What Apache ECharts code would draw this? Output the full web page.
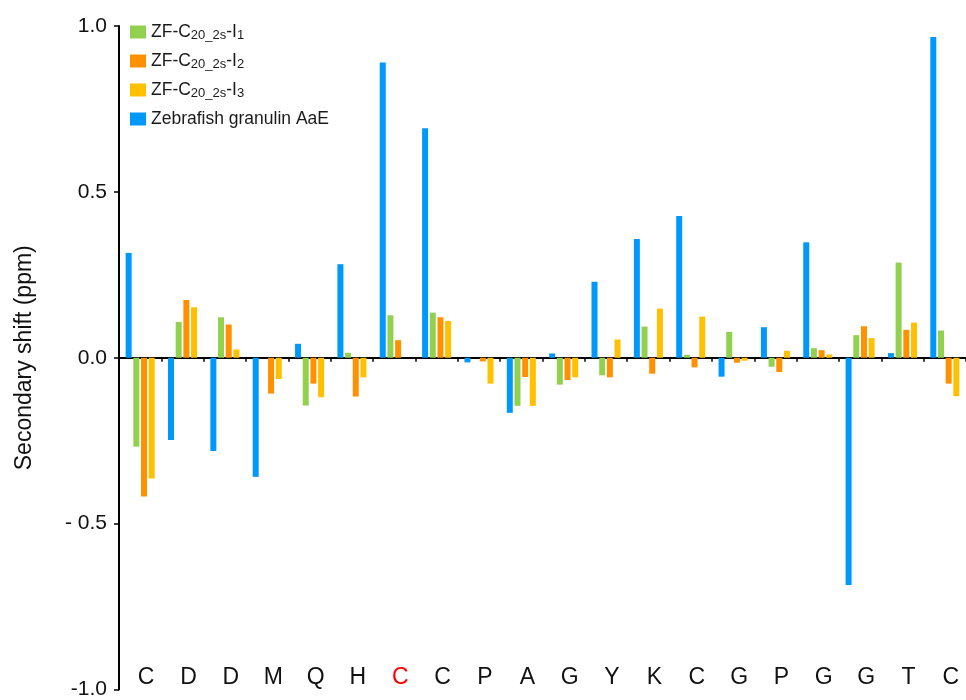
<!DOCTYPE html>
<html>
<head>
<meta charset="utf-8">
<script src="https://cdn.jsdelivr.net/npm/echarts@6/dist/echarts.min.js"></script>
<style>
  html, body { margin: 0; padding: 0; background: #fff; }
  #chart { width: 966px; height: 700px; }
</style>
</head>
<body>
<div id="chart"></div>
<script>
// Residues of the peptide (x axis)
const residues = ['C','D','D','M','Q','H','C','C','P','A','G','Y','K','C','G','P','G','G','T','C'];
// Index of the residue highlighted in red
const highlightIndex = 6;

// Secondary shifts (ppm)
const granulinAaE = [0.316, -0.248, -0.281, -0.359, 0.042, 0.282, 0.890, 0.692, -0.014, -0.166, 0.013, 0.229, 0.358, 0.427, -0.057, 0.092, 0.348, -0.685, 0.014, 0.967];
const isomer1 = [-0.268, 0.108, 0.122, 0, -0.144, 0.015, 0.128, 0.136, 0, -0.145, -0.081, -0.053, 0.094, 0.009, 0.078, -0.027, 0.029, 0.068, 0.287, 0.082];
const isomer2 = [-0.418, 0.174, 0.100, -0.108, -0.078, -0.117, 0.053, 0.122, -0.011, -0.058, -0.067, -0.059, -0.048, -0.029, -0.015, -0.043, 0.023, 0.095, 0.084, -0.078];
const isomer3 = [-0.364, 0.152, 0.025, -0.064, -0.119, -0.059, 0, 0.111, -0.078, -0.145, -0.059, 0.055, 0.148, 0.124, -0.009, 0.021, 0.010, 0.059, 0.106, -0.116];

// Y tick values and their printed labels
const yTickValues = [-1, -0.5, 0, 0.5, 1];
const yTickLabels = ['-1.0', '- 0.5', '0.0', '0.5', '1.0'];

// Legend names (plain) and their rich-text forms
const seriesNames = ['ZF-C20_2s-I1', 'ZF-C20_2s-I2', 'ZF-C20_2s-I3', 'Zebrafish granulin AaE'];
const legendRich = {
  'ZF-C20_2s-I1': '{n|ZF-C}{s|20_2s}{n|-I}{s|1}',
  'ZF-C20_2s-I2': '{n|ZF-C}{s|20_2s}{n|-I}{s|2}',
  'ZF-C20_2s-I3': '{n|ZF-C}{s|20_2s}{n|-I}{s|3}',
  'Zebrafish granulin AaE': '{n|Zebrafish granulin AaE}'
};

const FONT = '"Liberation Sans", Arial, sans-serif';
const colors = { aae: '#0098fb', i1: '#92d050', i2: '#ff9100', i3: '#ffc000' };

const chart = echarts.init(document.getElementById('chart'), null, { renderer: 'canvas' });

const barCommon = { type: 'bar', barWidth: 6, barGap: '28%', xAxisIndex: 0 };

chart.setOption({
  animation: false,
  backgroundColor: '#fff',
  textStyle: { fontFamily: FONT },
  grid: { left: 119, right: 0, top: 26, bottom: 7, containLabel: false },
  legend: {
    orient: 'vertical',
    left: 125,
    top: 18,
    itemWidth: 16,
    itemHeight: 13,
    itemGap: 10,
    icon: 'rect',
    data: seriesNames,
    formatter: name => legendRich[name],
    textStyle: {
      fontFamily: FONT,
      fontSize: 17.5,
      color: '#1a1a1a',
      rich: {
        n: { fontFamily: FONT, fontSize: 17.5, lineHeight: 20, color: '#1a1a1a' },
        s: { fontFamily: FONT, fontSize: 13, lineHeight: 7, verticalAlign: 'bottom', color: '#1a1a1a' }
      }
    }
  },
  xAxis: [
    {
      type: 'category',
      data: residues,
      axisLine: { onZero: true, lineStyle: { color: '#000', width: 2 } },
      axisTick: { show: true, length: 4, lineStyle: { color: '#000', width: 1.5 } },
      axisLabel: { show: false },
      splitLine: { show: false }
    },
    {
      type: 'category',
      data: residues,
      position: 'bottom',
      axisLine: { show: false, onZero: false },
      axisTick: { show: false },
      axisLabel: {
        inside: true,
        margin: 0,
        fontFamily: FONT,
        fontSize: 23,
        padding: [0, 0, 0, 12],
        color: (value, index) => index === highlightIndex ? '#ff0000' : '#111'
      },
      splitLine: { show: false }
    }
  ],
  yAxis: {
    type: 'value',
    min: -1,
    max: 1,
    interval: 0.5,
    name: 'Secondary shift (ppm)',
    nameLocation: 'middle',
    nameGap: 83,
    nameTextStyle: { fontFamily: FONT, fontSize: 23, color: '#111' },
    axisLine: { show: true, lineStyle: { color: '#000', width: 2 } },
    axisTick: { show: true, length: 5, lineStyle: { color: '#000', width: 1.5 } },
    axisLabel: {
      margin: 12,
      fontFamily: FONT,
      fontSize: 21,
      color: '#111',
      formatter: v => {
        const i = yTickValues.findIndex(t => Math.abs(t - v) < 1e-9);
        return i >= 0 ? yTickLabels[i] : '';
      }
    },
    splitLine: { show: false }
  },
  series: [
    Object.assign({}, barCommon, { name: seriesNames[3], data: granulinAaE, itemStyle: { color: colors.aae } }),
    Object.assign({}, barCommon, { name: seriesNames[0], data: isomer1, itemStyle: { color: colors.i1 } }),
    Object.assign({}, barCommon, { name: seriesNames[1], data: isomer2, itemStyle: { color: colors.i2 } }),
    Object.assign({}, barCommon, { name: seriesNames[2], data: isomer3, itemStyle: { color: colors.i3 } })
  ]
});
</script>
</body>
</html>
